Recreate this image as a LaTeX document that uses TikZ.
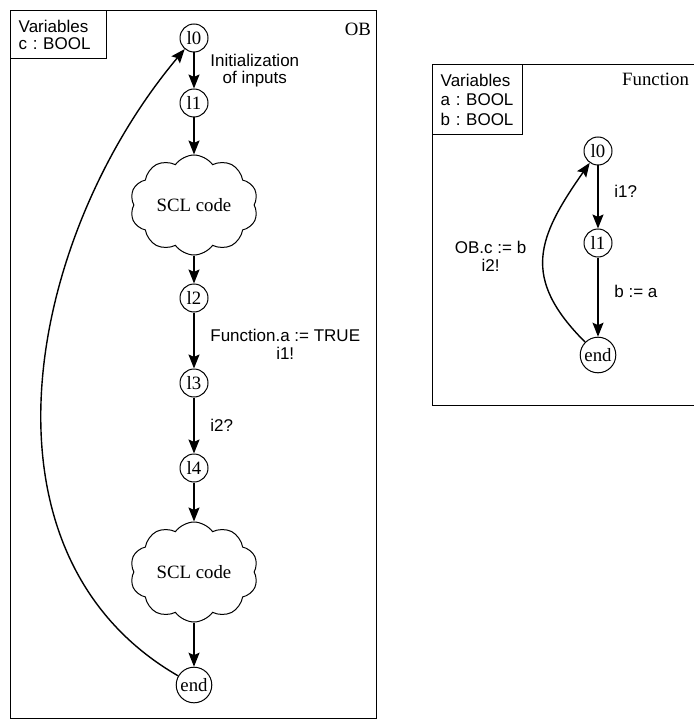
\documentclass[tikz,border=0pt]{standalone}
\usepackage{fontspec}
\setmainfont{Liberation Serif}
\setsansfont{Liberation Sans}
\frenchspacing
\usetikzlibrary{shapes.symbols}
\usetikzlibrary{arrows.meta}
\newcommand{\lbl}{\sffamily\fontsize{8.5}{8.7}\selectfont}
\newcommand{\lblwide}{\sffamily\fontsize{8.5}{9.8}\selectfont}
\newcommand{\loc}{\rmfamily\fontsize{9.4}{11}\selectfont}
\tikzset{
    frame/.style={draw, line width=0.7pt, anchor=north west, inner sep=0pt},
    varbox/.style={frame, align=left, inner xsep=4pt, inner ysep=4.5pt, font=\lbl},
    title/.style={anchor=north east, inner sep=0pt, font=\loc},
    state/.style={draw, circle, line width=0.5pt, minimum size=14pt, inner sep=1pt, font=\loc},
    code/.style={draw, cloud, cloud puffs=10, cloud puff arc=110, cloud ignores aspect,
                 line width=0.5pt, minimum width=64pt, minimum height=50pt, font=\loc},
    trans/.style={-{Stealth[length=7pt, width=5.5pt, inset=1.2pt]}, line width=0.7pt},
    guard/.style={font=\lbl, align=center}
}

\begin{document}
\begin{tikzpicture}[x=0.5pt, y=-0.5pt]
              \useasboundingbox (0,0) rectangle (693,727);

              % OB
              \node[frame, minimum width=183pt, minimum height=354pt] (OB) at (10,10) {};
              \node[varbox, text width=40pt] (OB-vars) at (OB.north west) {Variables\\c : BOOL};
              \node[title] (OB-name) at ([xshift=-3pt, yshift=-6.5pt]OB.north east) {OB};

              \path
                  (194,38) node[state] (ob-l0) {l0}
                  ++(0,65) node[state] (ob-l1) {l1}
                  ++(0,102) node[code] (ob-scl1) {SCL code}
                  ++(0,93) node[state] (ob-l2) {l2}
                  ++(0,85) node[state] (ob-l3) {l3}
                  ++(0,85) node[state] (ob-l4) {l4}
                  ++(0,104) node[code] (ob-scl2) {SCL code}
                  ++(0,113) node[state] (ob-end) {end};

              \draw[trans] (ob-l0) -- node[guard, right, xshift=4.5pt] {Initialization\\of inputs} (ob-l1);
              \draw[trans] (ob-l1) -- (ob-scl1.north);
              \draw[trans] (ob-scl1.south) -- (ob-l2);
              \draw[trans] (ob-l2) -- node[guard, right, xshift=4.5pt, yshift=-2pt] {Function.a := TRUE\\i1!} (ob-l3);
              \draw[trans] (ob-l3) -- node[guard, right, xshift=4.5pt] {i2?} (ob-l4);
              \draw[trans] (ob-l4) -- (ob-scl2.north);
              \draw[trans] (ob-scl2.south) -- (ob-end);
              \draw[trans] (ob-end) to[out=150, in=230] (ob-l0);

              % Function
              \node[frame, minimum width=132.5pt, minimum height=170.5pt] (FN) at (432,64) {};
              \node[varbox, text width=37pt, font=\lblwide] (FN-vars) at (FN.north west) {Variables\\a : BOOL\\b : BOOL};
              \node[title] (FN-name) at ([xshift=-4.5pt, yshift=-4.5pt]FN.north east) {Function};

              \path
                  (598,151) node[state] (fn-l0) {l0}
                  ++(0,92) node[state] (fn-l1) {l1}
                  ++(0,112) node[state] (fn-end) {end};

              \draw[trans] (fn-l0) -- node[guard, right, xshift=4.5pt, yshift=3pt] {i1?} (fn-l1);
              \draw[trans] (fn-l1) -- node[guard, right, xshift=4.5pt, yshift=3pt] {b := a} (fn-end);
              \draw[trans] (fn-end) to[out=135, in=235, looseness=1.3] node[guard, left, xshift=-5pt] {OB.c := b\\i2!} (fn-l0);
            \end{tikzpicture}
\end{document}
